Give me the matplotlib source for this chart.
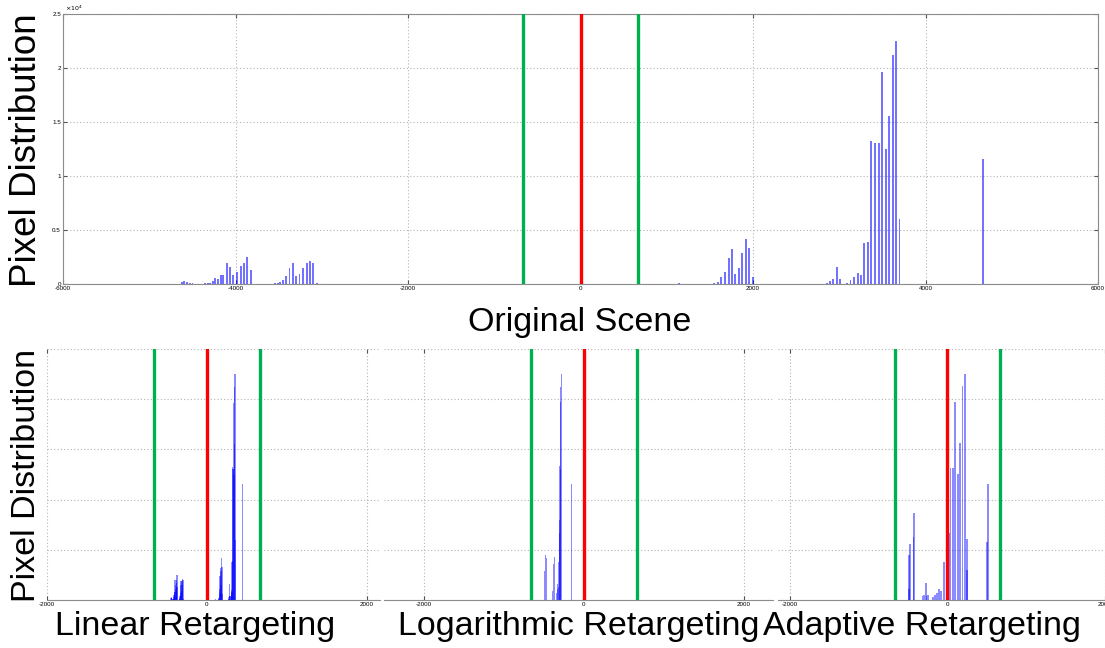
import matplotlib
matplotlib.use("Agg")
import numpy as np
import matplotlib.pyplot as plt

plt.rcParams['font.family'] = ['Liberation Sans', 'DejaVu Sans']

# original scene histogram (disparity bin centre -> pixel count)
orig_pos = [-4624, -4593, -4562, -4531, -4500,
            -4384, -4353, -4323, -4296, -4265, -4234, -4203, -4172, -4141,
            -4102, -4064, -4025, -3986, -3940, -3901, -3863, -3824,
            -3542, -3511, -3484, -3453, -3414, -3375, -3337, -3298, -3259,
            -3221, -3175, -3136, -3098, -3059,
            1146, 1552, 1590, 1629, 1675, 1718, 1757, 1795, 1834, 1876, 1915,
            1954, 1996,
            2854, 2893, 2931, 2970, 3009, 3093, 3132, 3175, 3214, 3252, 3291,
            3333, 3372, 3414, 3457, 3495, 3538, 3576, 3619, 3658, 3700, 4663]
orig_cnt = [216, 278, 216, 123, 60,
            40, 50, 70, 120, 280, 520, 450, 800, 800,
            1975, 1540, 800, 1140, 1670, 1975, 2470, 1300,
            62, 123, 200, 370, 740, 1480, 1910, 740, 925,
            1450, 1910, 2100, 1975, 123,
            62, 62, 216, 680, 1140, 2380, 3210, 930, 1450, 2840, 4200,
            3330, 620,
            62, 310, 430, 1600, 430, 62, 370, 680, 990, 830, 3770,
            3860, 13270, 13020, 13020, 19630, 12470, 15580, 21200, 22470, 6020, 11540]

# linear retargeting compresses the whole range by one factor
linear_scale = 0.0965

# logarithmic retargeting
log_pos = [-488, -484, -471, -392, -380, -363, -342, -333, -325, -317, -312,
           -308, -304, -300, -296, -292, -288, -284, -155]
log_cnt = [2900, 4490, 4150, 930, 3590, 4255, 660, 1100, 1600, 1330, 3800,
           6650, 8000, 13300, 13020, 19680, 21200, 22540, 11570]

# adaptive retargeting
ada_pos = [-490, -484, -472, -430, -426, -317, -296, -271, -265, -242, -179,
           -158, -133, -108, -83, -45, 13, 16, 38, 71, 100, 130, 163, 193,
           222, 247, 252, 506, 511]
ada_cnt = [1060, 4490, 5585, 6300, 8644, 400, 500, 1660, 400, 500, 330,
           500, 730, 1064, 930, 3820, 13360, 6700, 13100, 13100, 19680, 12570,
           15630, 21280, 22540, 6050, 3000, 5820, 11570]

comfort_zone = [-665, 665]
screen_plane = 0

top_yticks = [0, 5000, 10000, 15000, 20000, 25000]
top_ylabels = ['0', '0.5', '1', '1.5', '2', '2.5']
top_xticks = [-6000, -4000, -2000, 0, 2000, 4000, 6000]
bot_xticks = [-2000, 0, 2000]

titles = ['Linear Retargeting', 'Logarithmic Retargeting', 'Adaptive Retargeting']

green = '#00b050'
red = '#ff0000'
bar_col = (0.0, 0.0, 1.0)
grid_col = '#b4b4b4'


def style_axes(ax):
    ax.grid(True, linestyle=(0, (1, 2)), color=grid_col, linewidth=0.8)
    ax.set_axisbelow(True)
    ax.tick_params(direction='in', length=3, width=0.8, color='#555555',
                   labelsize=4.5, pad=1.5, top=True, right=True)
    for s in ax.spines.values():
        s.set_color('#8c8c8c')
        s.set_linewidth(0.8)


def draw_lines(ax):
    for c in comfort_zone:
        ax.axvline(c, color=green, linewidth=2.4, zorder=3)
    ax.axvline(screen_plane, color=red, linewidth=2.4, zorder=3)


fig = plt.figure(figsize=(11.05, 6.48), dpi=100)

# top: original scene
ax = fig.add_axes([63 / 1105, 1 - 284 / 648, 1035 / 1105, 270 / 648])
style_axes(ax)
ax.bar(orig_pos, orig_cnt, width=20, color=bar_col, alpha=0.55, linewidth=0, zorder=2)
draw_lines(ax)
ax.set_xlim(-6000, 6000)
ax.set_ylim(0, 25000)
ax.set_xticks(top_xticks)
ax.set_xticklabels([str(t) for t in top_xticks])
ax.set_yticks(top_yticks)
ax.set_yticklabels(top_ylabels)
ax.text(0.002, 1.003, r'$\times 10^4$', transform=ax.transAxes, fontsize=4.5,
        ha='left', va='bottom')

# bottom panels
panel_left = [46.7, 384, 778]
panel_right = [380, 773, 1105]
panel_xlim = [(-2000, 2166), (-2500, 2366), (-2150, 1955)]
panel_data = [(np.array(orig_pos) * linear_scale, orig_cnt),
              (log_pos, log_cnt),
              (ada_pos, ada_cnt)]
panel_width = [18, 14, 22]

for i in range(3):
    l, r = panel_left[i], panel_right[i]
    axb = fig.add_axes([l / 1105, 1 - 600 / 648, (r - l) / 1105, 251 / 648])
    style_axes(axb)
    for s in ['top', 'left', 'right']:
        axb.spines[s].set_visible(False)
    pos, cnt = panel_data[i]
    axb.bar(pos, cnt, width=panel_width[i], color=bar_col, alpha=0.45,
            linewidth=0, zorder=2)
    draw_lines(axb)
    axb.set_xlim(*panel_xlim[i])
    axb.set_ylim(0, 25000)
    axb.set_yticks(top_yticks)
    axb.set_yticklabels([])
    axb.tick_params(axis='y', length=0)
    axb.set_xticks(bot_xticks)
    axb.set_xticklabels([str(t) for t in bot_xticks])
    fig.text(((l + r) / 2 + [-18, 0, -20][i]) / 1105, 1 - 626 / 648, titles[i],
             fontsize=24.5, ha='center', va='center')

fig.text(27 / 1105, 1 - 150 / 648, 'Pixel Distribution', rotation=90,
         fontsize=26.5, ha='center', va='center')
fig.text(27 / 1105, 1 - 475 / 648, 'Pixel Distribution', rotation=90,
         fontsize=24.5, ha='center', va='center')
fig.text(580 / 1105, 1 - 322 / 648, 'Original Scene', fontsize=24.5,
         ha='center', va='center')

fig.savefig('out.png', dpi=100)
